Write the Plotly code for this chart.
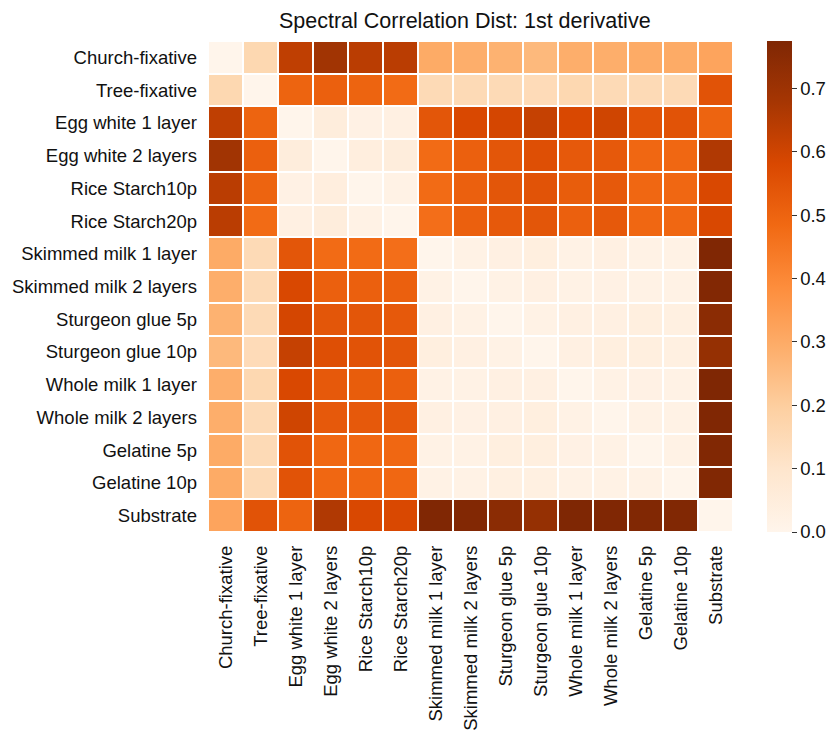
import numpy as np
import plotly.graph_objects as go

labels = [
    "Church-fixative", "Tree-fixative", "Egg white 1 layer", "Egg white 2 layers",
    "Rice Starch10p", "Rice Starch20p", "Skimmed milk 1 layer", "Skimmed milk 2 layers",
    "Sturgeon glue 5p", "Sturgeon glue 10p", "Whole milk 1 layer", "Whole milk 2 layers",
    "Gelatine 5p", "Gelatine 10p", "Substrate",
]

# Upper triangle of the distance matrix, one row per label (diagonal excluded)
upper_rows = [
    [0.16, 0.63, 0.69, 0.64, 0.64, 0.30, 0.29, 0.28, 0.26, 0.29, 0.29, 0.30, 0.30, 0.32],
    [0.50, 0.51, 0.50, 0.48, 0.15, 0.15, 0.15, 0.145, 0.16, 0.15, 0.15, 0.15, 0.55],
    [0.05, 0.025, 0.03, 0.54, 0.58, 0.59, 0.62, 0.58, 0.60, 0.55, 0.55, 0.50],
    [0.045, 0.05, 0.48, 0.51, 0.54, 0.56, 0.53, 0.53, 0.49, 0.49, 0.66],
    [0.02, 0.48, 0.51, 0.54, 0.55, 0.52, 0.53, 0.49, 0.49, 0.58],
    [0.47, 0.51, 0.53, 0.54, 0.51, 0.53, 0.49, 0.49, 0.58],
    [0.02, 0.03, 0.04, 0.02, 0.03, 0.02, 0.02, 0.772],
    [0.02, 0.03, 0.02, 0.025, 0.02, 0.02, 0.768],
    [0.02, 0.03, 0.03, 0.04, 0.035, 0.745],
    [0.03, 0.04, 0.04, 0.035, 0.72],
    [0.02, 0.025, 0.02, 0.775],
    [0.02, 0.02, 0.772],
    [0.02, 0.770],
    [0.770],
    [],
]

n = len(labels)
dist = np.zeros((n, n))
for i, row in enumerate(upper_rows):
    for k, v in enumerate(row):
        j = i + 1 + k
        dist[i, j] = v
        dist[j, i] = v

FONT = "Arial"
TXT = "#111"

fig = go.Figure(
    go.Heatmap(
        z=dist,
        x=labels,
        y=labels,
        colorscale="Oranges",
        zmin=0,
        zmax=float(dist.max()),
        xgap=2,
        ygap=2,
        colorbar=dict(
            thickness=25,
            len=1.0,
            lenmode="fraction",
            y=0.5,
            yanchor="middle",
            x=1.065,
            xpad=0,
            ypad=0,
            xanchor="left",
            outlinewidth=0,
            tickvals=[0, 0.1, 0.2, 0.3, 0.4, 0.5, 0.6, 0.7],
            ticktext=["0.0", "0.1", "0.2", "0.3", "0.4", "0.5", "0.6", "0.7"],
            ticks="outside",
            ticklen=5,
            tickwidth=1,
            tickcolor="#333",
            tickfont=dict(family=FONT, size=18.5, color=TXT),
        ),
    )
)

fig.update_layout(
    width=830,
    height=731,
    margin=dict(l=208, r=97, t=41, b=199, autoexpand=False),
    plot_bgcolor="white",
    paper_bgcolor="white",
    font=dict(family=FONT, size=18.5, color=TXT),
    title=dict(
        text="Spectral Correlation Dist: 1st derivative",
        x=0.56,
        xanchor="center",
        y=0.972,
        yanchor="middle",
        font=dict(family=FONT, size=21.5, color=TXT),
    ),
)
fig.update_xaxes(tickangle=-90, showgrid=False, zeroline=False, ticks="", ticklen=0,
                 automargin=False, ticklabelstandoff=9, tickfont=dict(size=18.5))
fig.update_yaxes(autorange="reversed", showgrid=False, zeroline=False, ticks="",
                 ticklen=0, automargin=False, ticklabelstandoff=10,
                 tickfont=dict(size=18.5))

fig.write_html("out.html")
